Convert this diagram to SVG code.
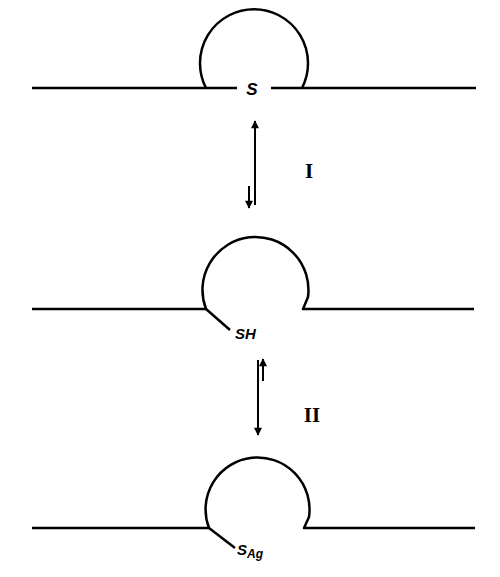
<svg xmlns="http://www.w3.org/2000/svg" width="500" height="577" viewBox="0 0 500 577">
<style>
.ln{fill:none;stroke:#000;stroke-width:2.5;stroke-linejoin:round}
.ar{fill:none;stroke:#000;stroke-width:2}
.lb{font-family:"Liberation Sans",Arial,sans-serif;font-style:italic;font-weight:bold;fill:#000}
.rn{font-family:"Liberation Serif","Times New Roman",serif;font-weight:bold;fill:#000}
</style>
<defs>
<marker id="ah" viewBox="0 0 10 10" refX="9" refY="5" markerWidth="4.5" markerHeight="4" orient="auto" markerUnits="strokeWidth">
<path d="M0,0 L10,5 L0,10 Z" fill="#000"/>
</marker>
</defs>
<rect width="500" height="577" fill="#fff"/>
<g id="state1">
<path class="ln" d="M32,88 L237,88 M271,88 L476,88"/>
<path class="ln" d="M206,88 A54,54 0 1 1 302,88"/>
<text class="lb" x="252" y="95" font-size="17" text-anchor="middle">S</text>
</g>
<g id="state2">
<path class="ln" d="M32,309 L206,309 A53,53 0 1 1 308,297 L303,309 L474,309"/>
<path class="ln" d="M206,309 L230,330"/>
<text class="lb" x="235" y="339" font-size="15">SH</text>
</g>
<g id="state3">
<path class="ln" d="M32,528 L209,528 A52,52 0 1 1 309,517 L304,528 L475,528"/>
<path class="ln" d="M209,528 L235,548"/>
<text class="lb" x="237" y="555" font-size="15">S<tspan font-size="12" dy="3">Ag</tspan></text>
</g>
<g id="connectors">
<line class="ar" x1="255" y1="205" x2="255" y2="121" marker-end="url(#ah)"/>
<line class="ar" x1="249" y1="186" x2="249" y2="208" marker-end="url(#ah)"/>
<line class="ar" x1="258" y1="360" x2="258" y2="435" marker-end="url(#ah)"/>
<line class="ar" x1="263" y1="381" x2="263" y2="359" marker-end="url(#ah)"/>
</g>
<g id="labels">
<text class="rn" x="309" y="178" font-size="21" text-anchor="middle" font-weight="normal">I</text>
<text class="rn" x="312" y="422" font-size="21" text-anchor="middle">II</text>
</g>
</svg>
